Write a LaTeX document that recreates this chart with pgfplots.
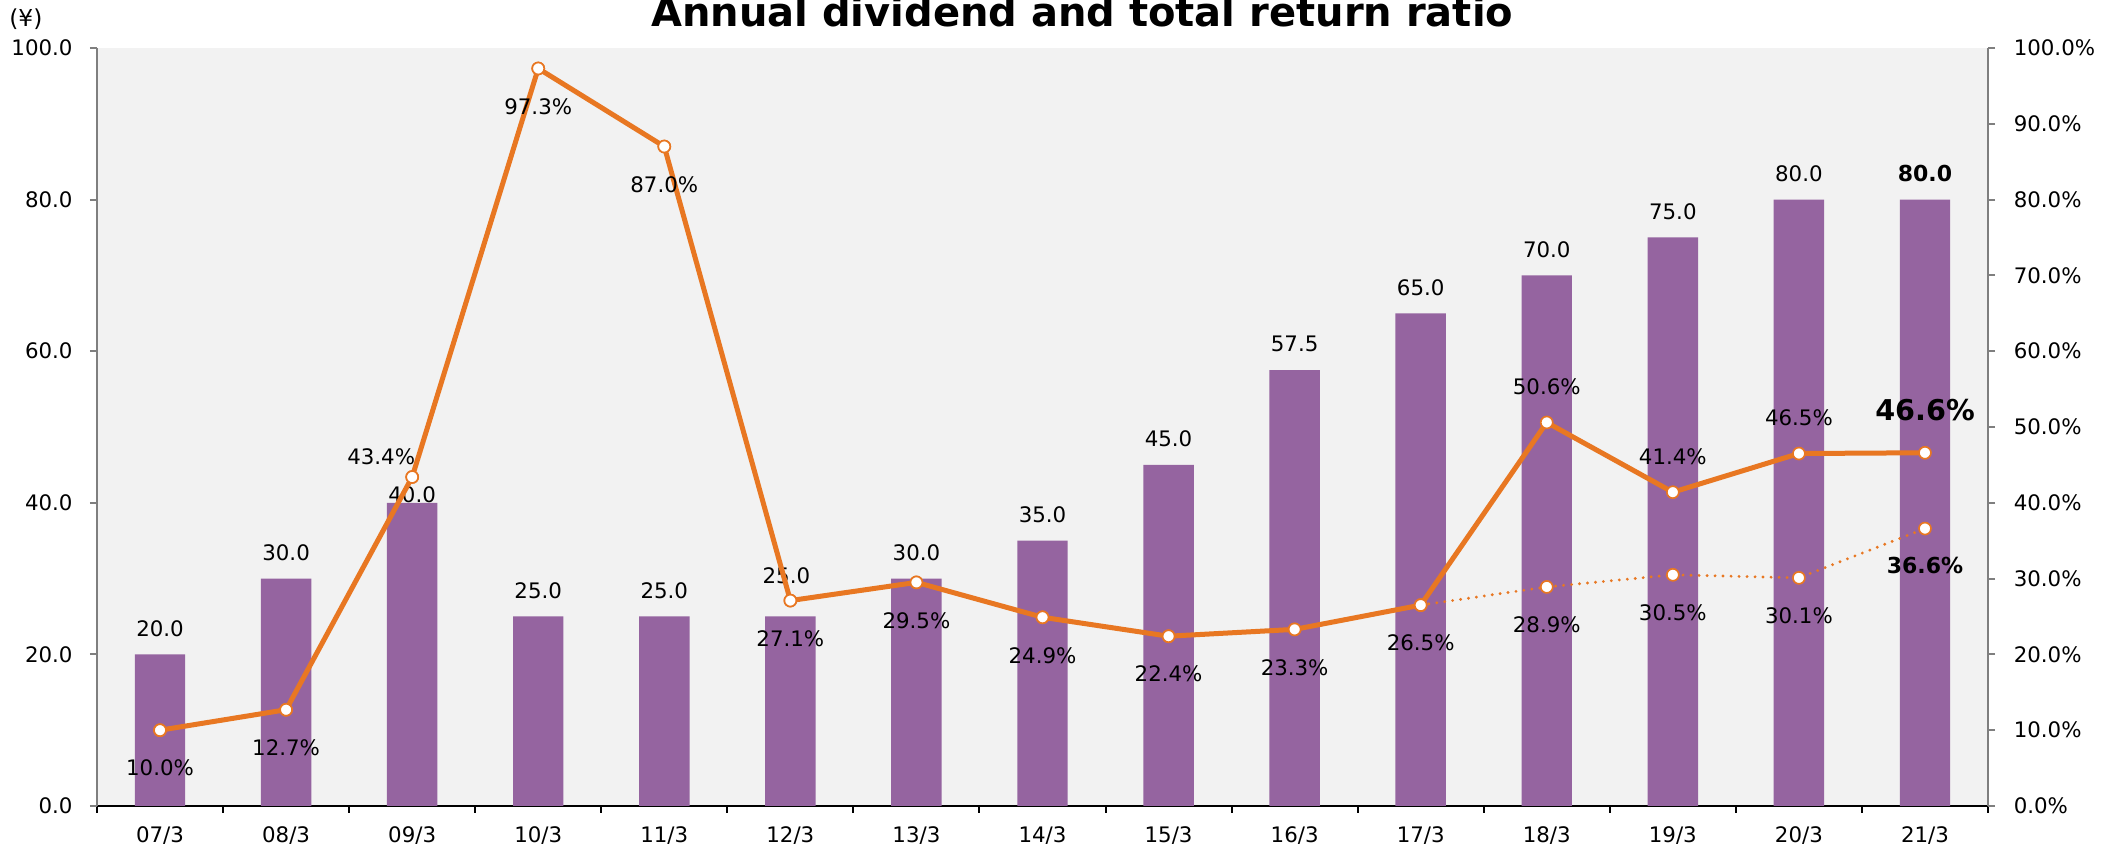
\documentclass[border=0pt]{standalone}
\usepackage{pgfplots}
\pgfplotsset{compat=1.18}
\usepackage{fontspec}
\setmainfont{DejaVu Sans}
\definecolor{barP}{HTML}{9564A0}
\definecolor{lineO}{HTML}{E87722}
\definecolor{bgG}{HTML}{F2F2F2}
\definecolor{axG}{HTML}{7F7F7F}
\newcommand{\lbl}{\fontsize{6.4}{7.6}\selectfont}
\newcommand{\lblb}{\bfseries\fontsize{6.6}{7.8}\selectfont}
\newcommand{\lblB}{\bfseries\fontsize{8.6}{10}\selectfont}

\begin{document}
\begin{tikzpicture}
\pgfplotsset{
  /pgf/number format/assume math mode=true,
  base/.style={
    scale only axis, width=567.3pt, height=227.4pt,
    xmin=-0.5, xmax=14.5, ymin=0, ymax=100,
    tick align=outside, major tick length=2.1pt,
    ticklabel style={font=\lbl},
    clip=false,
  },
  pctlbl/.style={nodes near coords={\pgfmathprintnumber[fixed,fixed zerofill,precision=1]{\pgfplotspointmeta}\%}, point meta=y},
  numlbl/.style={nodes near coords={\pgfmathprintnumber[fixed,fixed zerofill,precision=1]{\pgfplotspointmeta}}, point meta=y},
}
% ---------- bars (left axis) ----------
\begin{axis}[base,
  axis background/.style={fill=bgG},
  axis x line*=bottom, axis y line*=left,
  x axis line style={-, black, line width=0.6pt},
  y axis line style={-, axG, line width=0.6pt},
  ytick={0,20,...,100},
  yticklabel={\pgfmathprintnumber[fixed,fixed zerofill,precision=1]{\tick}},
  yticklabel style={xshift=-1.7pt},
  ytick style={axG, line width=0.6pt},
  xtick={-0.5,0.5,...,14.5},
  xticklabels={},
  xtick style={black, line width=0.6pt},
  extra x ticks={0,1,...,14},
  extra x tick labels={07/3,08/3,09/3,10/3,11/3,12/3,13/3,14/3,15/3,16/3,17/3,18/3,19/3,20/3,21/3},
  extra x tick style={major tick length=0pt, xticklabel style={yshift=-2.8pt}},
]
\coordinate (SW) at (rel axis cs:0,0);
\coordinate (NE) at (rel axis cs:1,1);
\addplot[ybar, bar width=0.4, fill=barP, draw=none] coordinates {
 (0,20) (1,30) (2,40) (3,25) (4,25) (5,25) (6,30) (7,35) (8,45) (9,57.5) (10,65) (11,70) (12,75) (13,80) (14,80)};
% bar labels
\addplot[draw=none, numlbl, every node near coord/.append style={font=\lbl, anchor=center, yshift=7.8pt}] coordinates {
 (0,20) (1,30) (3,25) (4,25) (6,30) (7,35) (8,45) (9,57.5) (10,65) (11,70) (12,75) (13,80)};
\addplot[draw=none, numlbl, every node near coord/.append style={font=\lbl, anchor=center, yshift=2.3pt}] coordinates {(2,40)};
\addplot[draw=none, numlbl, every node near coord/.append style={font=\lbl, anchor=center, yshift=12.2pt, xshift=-1.2pt}] coordinates {(5,25)};
\addplot[draw=none, numlbl, every node near coord/.append style={font=\lblb, anchor=center, yshift=7.8pt}] coordinates {(14,80)};
\node[font=\bfseries\fontsize{12}{14}\selectfont, anchor=base, inner sep=0pt] at (rel axis cs:0.521,1) [yshift=6.3pt] {Annual dividend and total return ratio};
\node[font=\fontsize{7}{8}\selectfont, anchor=west, inner sep=0pt] at (rel axis cs:0,1) [xshift=-26.5pt, yshift=8.7pt] {(¥)};
\end{axis}
% ---------- lines (right axis) ----------
\begin{axis}[base,
  axis x line=none,
  axis y line*=right,
  y axis line style={-, axG, line width=0.6pt},
  ytick={0,10,...,100},
  yticklabel={\pgfmathprintnumber[fixed,fixed zerofill,precision=1]{\tick}\%},
  yticklabel style={xshift=2.1pt},
  ytick style={axG, line width=0.6pt},
]
\addplot[lineO, line width=1.5pt, mark=*, mark size=1.8pt, mark options={fill=white, draw=lineO, line width=0.5pt}] coordinates {
 (0,10.0) (1,12.7) (2,43.4) (3,97.3) (4,87.0) (5,27.1) (6,29.5) (7,24.9) (8,22.4) (9,23.3) (10,26.5) (11,50.6) (12,41.4) (13,46.5) (14,46.6)};
\addplot[lineO, line width=0.95pt, line cap=round, dash pattern=on 0pt off 2.4pt, mark=*, mark size=1.8pt, mark options={solid, fill=white, draw=lineO, line width=0.5pt}] coordinates {
 (0,10.0) (1,12.7) (2,43.4) (3,97.3) (4,87.0) (5,27.1) (6,29.5) (7,24.9) (8,22.4) (9,23.3) (10,26.5) (11,28.9) (12,30.5) (13,30.1) (14,36.6)};
% line labels
\addplot[draw=none, pctlbl, every node near coord/.append style={font=\lbl, anchor=center, yshift=-11.4pt}] coordinates {
 (0,10.0) (1,12.7) (3,97.3) (4,87.0) (5,27.1) (6,29.5) (7,24.9) (8,22.4) (9,23.3) (10,26.5) (11,28.9) (12,30.5) (13,30.1)};
\addplot[draw=none, pctlbl, every node near coord/.append style={font=\lbl, anchor=center, yshift=6pt, xshift=-9.3pt}] coordinates {(2,43.4)};
\addplot[draw=none, pctlbl, every node near coord/.append style={font=\lbl, anchor=center, yshift=10.6pt}] coordinates {(11,50.6) (12,41.4) (13,46.5)};
\addplot[draw=none, pctlbl, every node near coord/.append style={font=\lblB, anchor=center, yshift=12.9pt}] coordinates {(14,46.6)};
\addplot[draw=none, pctlbl, every node near coord/.append style={font=\lblb, anchor=center, yshift=-11.1pt}] coordinates {(14,36.6)};
\end{axis}
\pgfresetboundingbox
\useasboundingbox ([xshift=-29.1pt,yshift=-12.3pt]SW) rectangle ([xshift=36.3pt,yshift=14.4pt]NE);
\end{tikzpicture}
\end{document}
